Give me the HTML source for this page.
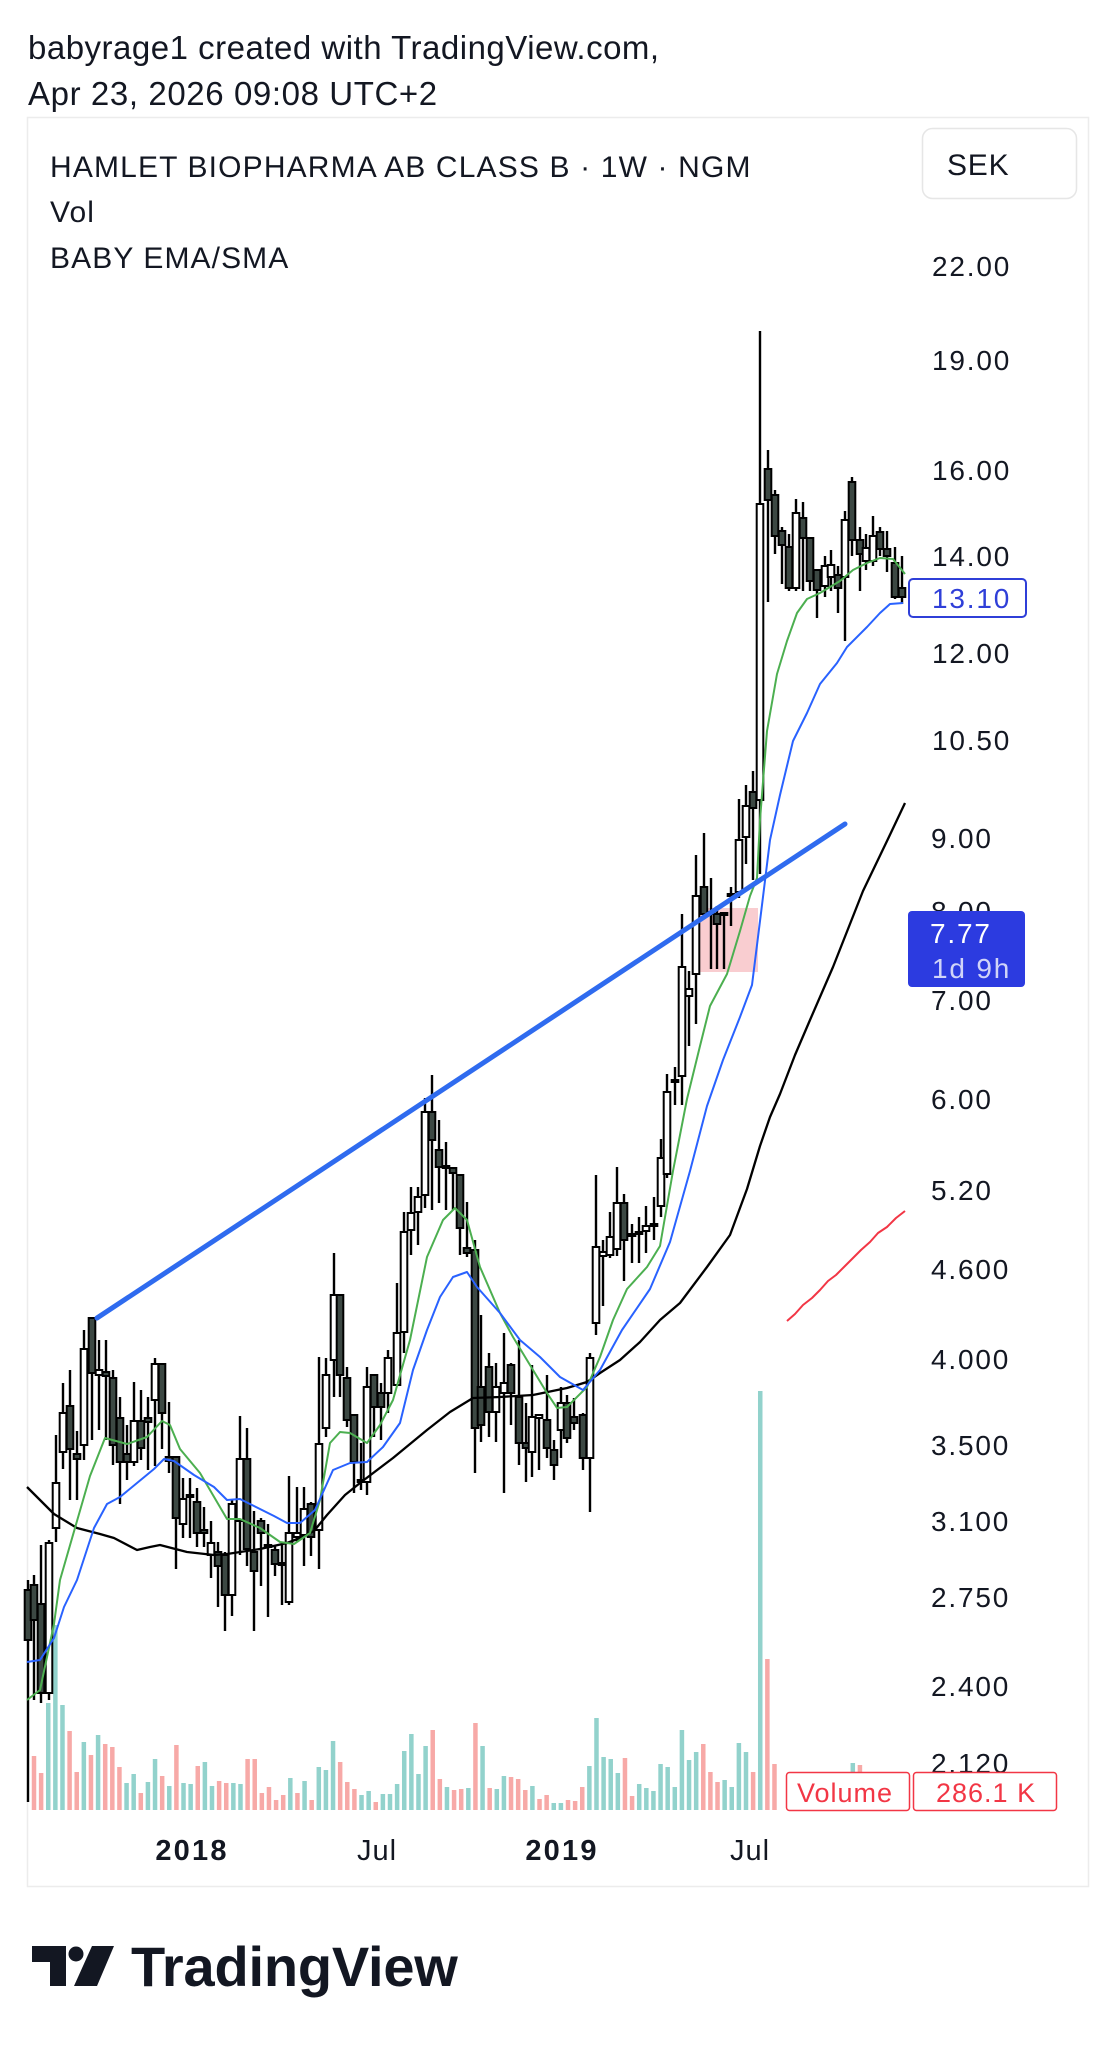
<!DOCTYPE html>
<html>
<head>
<meta charset="utf-8">
<style>
html,body{margin:0;padding:0;background:#fff;}
body{width:1110px;height:2048px;overflow:hidden;}
svg{display:block;font-family:"Liberation Sans",sans-serif;}
</style>
</head>
<body>
<svg id="s" width="1110" height="2048" viewBox="0 0 1110 2048" xmlns="http://www.w3.org/2000/svg">
<rect width="1110" height="2048" fill="#fff"/>
<!-- header -->
<text x="28" y="59" font-size="33" letter-spacing="0.5" fill="#131722">babyrage1 created with TradingView.com,</text>
<text x="28" y="105" font-size="33" letter-spacing="0.6" fill="#131722">Apr 23, 2026 09:08 UTC+2</text>
<!-- frame -->
<rect x="27.5" y="117.5" width="1061" height="1769" fill="none" stroke="#ececec" stroke-width="1.5"/>
<text x="50" y="177" font-size="30" letter-spacing="1.15" fill="#131722">HAMLET BIOPHARMA AB CLASS B · 1W · NGM</text>
<text x="50" y="222" font-size="30" letter-spacing="1.1" fill="#131722">Vol</text>
<text x="50" y="268" font-size="30" letter-spacing="1.1" fill="#131722">BABY EMA/SMA</text>
<rect x="922.5" y="128.5" width="154" height="70" rx="10" fill="#fff" stroke="#e6e6e6" stroke-width="1.5"/>
<text x="947" y="175" font-size="30" letter-spacing="0.8" fill="#131722">SEK</text>

<!-- price labels -->
<g font-size="28" letter-spacing="1.8" fill="#131722">
<text x="932" y="276">22.00</text>
<text x="932" y="370">19.00</text>
<text x="932" y="480">16.00</text>
<text x="932" y="566">14.00</text>
<text x="932" y="663">12.00</text>
<text x="932" y="750">10.50</text>
<text x="931" y="848">9.00</text>
<text x="931" y="921">8.00</text>
<text x="931" y="1010">7.00</text>
<text x="931" y="1109">6.00</text>
<text x="931" y="1200">5.20</text>
<text x="931" y="1279">4.600</text>
<text x="931" y="1369">4.000</text>
<text x="931" y="1455">3.500</text>
<text x="931" y="1531">3.100</text>
<text x="931" y="1607">2.750</text>
<text x="931" y="1696">2.400</text>
<text x="931" y="1773">2.120</text>
</g>

<!-- volume -->
<g id="vol"></g>

<!-- red zone -->
<rect x="700" y="908" width="58" height="64" fill="#f9cdd0"/>

<!-- candles -->
<g id="cand"></g>

<!-- MAs -->
<polyline fill="none" stroke="#000" stroke-width="2.3" stroke-linejoin="round" points="27,1487 40,1500 54,1514 77,1528 100,1534 114,1538 137,1550 150,1547 160,1545 187,1552 214,1555 227,1554 260,1549 287,1543 300,1538 314,1531 327,1515 345,1495 360,1483 393,1458 427,1430 450,1412 473,1398 500,1397 533,1395 567,1388 587,1382 600,1373 620,1360 640,1342 660,1320 680,1303 707,1267 730,1235 747,1189 760,1146 770,1117 780,1094 795,1055 810,1020 833,967 863,891 887,841 905,803"/>
<polyline fill="none" stroke="#4caf50" stroke-width="2" stroke-linejoin="round" points="27,1700 40,1690 54,1624 60,1580 77,1521 90,1476 105,1438 127,1444 147,1437 162,1421 170,1425 180,1449 200,1473 227,1519 240,1519 260,1528 280,1542 294,1544 310,1533 320,1500 330,1443 340,1432 350,1433 367,1443 380,1425 393,1400 410,1340 427,1257 443,1220 455,1208 467,1220 480,1267 500,1313 513,1337 533,1370 547,1393 557,1408 567,1407 587,1387 600,1357 613,1320 627,1289 647,1267 660,1246 673,1171 687,1099 700,1046 710,1006 727,974 740,931 750,896 757,878 760,820 767,731 777,674 787,641 797,613 807,599 820,593 840,581 853,570 867,563 880,558 893,559 905,574"/>
<polyline fill="none" stroke="#2962ff" stroke-width="2" stroke-linejoin="round" points="27,1662 40,1660 54,1638 64,1607 77,1580 94,1528 107,1504 120,1497 137,1483 154,1469 164,1459 174,1461 194,1475 214,1487 227,1500 240,1499 254,1506 274,1516 287,1523 300,1523 315,1510 333,1470 350,1463 367,1462 383,1447 400,1423 413,1370 427,1330 440,1297 453,1277 467,1272 477,1287 500,1313 520,1340 540,1357 560,1377 583,1390 600,1370 622,1330 650,1289 670,1242 690,1171 707,1106 723,1060 740,1017 752,985 757,945 762,905 770,840 780,795 793,741 807,713 820,684 837,663 847,647 867,627 880,613 890,604 903,603"/>
<polyline fill="none" stroke="#f23645" stroke-width="2" stroke-linejoin="round" points="787,1321 795,1314 803,1305 812,1298 820,1290 828,1281 836,1275 845,1266 853,1258 861,1250 870,1242 878,1233 887,1227 896,1218 905,1211"/>

<!-- trendline -->
<line x1="97" y1="1318" x2="845" y2="824" stroke="#2f6bef" stroke-width="5" stroke-linecap="round"/>

<!-- last price label -->
<rect x="909" y="579" width="117" height="38" rx="4" fill="#fff" stroke="#2f3fd8" stroke-width="2"/>
<text x="932" y="608" font-size="28" letter-spacing="1.8" fill="#2f3fd8">13.10</text>
<rect x="908" y="911" width="117" height="76" rx="4" fill="#2c3be0"/>
<text x="930" y="943" font-size="28" letter-spacing="1.8" fill="#fff">7.77</text>
<text x="932" y="978" font-size="28" letter-spacing="1.8" fill="#fff" fill-opacity="0.78">1d 9h</text>

<!-- volume label -->
<rect x="786.5" y="1772.5" width="123" height="38" rx="3" fill="#fff" stroke="#f23645" stroke-width="1.5"/>
<text x="797" y="1802" font-size="27" letter-spacing="1" fill="#f23645">Volume</text>
<rect x="913.5" y="1772.5" width="143" height="38" rx="3" fill="#fff" stroke="#f23645" stroke-width="1.5"/>
<text x="936" y="1802" font-size="27" letter-spacing="1" fill="#f23645">286.1 K</text>

<!-- x axis -->
<g font-size="29" fill="#131722" text-anchor="middle">
<text x="192" y="1860" font-weight="bold" letter-spacing="2.2">2018</text>
<text x="377" y="1860" letter-spacing="1">Jul</text>
<text x="562" y="1860" font-weight="bold" letter-spacing="2.2">2019</text>
<text x="750" y="1860" letter-spacing="1">Jul</text>
</g>

<!-- TradingView logo -->
<path d="M32,1946 H66 V1986 H50 V1962 H32 Z" fill="#131722"/>
<circle cx="76" cy="1954" r="7.5" fill="#131722"/>
<path d="M92,1946 H114 L97,1986 H74 Z" fill="#131722"/>
<text x="131" y="1986" font-size="56" font-weight="bold" letter-spacing="-0.2" fill="#131722">TradingView</text>
</svg>
<script>
(function(){
var C=[
[28,1580,1802,1590,1640,0],[34,1575,1700,1585,1620,0],[41,1545,1703,1604,1693,0],[49,1540,1700,1543,1693,1],
[56,1435,1542,1483,1528,1],[63,1383,1469,1413,1452,1],[70,1370,1500,1406,1449,0],[77,1431,1500,1454,1459,0],
[84,1330,1460,1349,1445,1],[92,1318,1440,1318,1373,0],[99,1340,1430,1370,1375,1],[106,1340,1440,1372,1376,0],
[113,1370,1465,1378,1445,0],[120,1397,1504,1418,1462,0],[127,1425,1480,1454,1462,0],[134,1382,1466,1421,1462,1],
[141,1390,1460,1421,1448,0],[148,1397,1470,1418,1422,0],[155,1358,1466,1364,1400,1],[162,1364,1449,1364,1413,0],
[169,1402,1473,1457,1461,0],[176,1457,1569,1457,1518,0],[183,1478,1538,1499,1524,1],[190,1478,1538,1495,1497,0],
[197,1488,1547,1502,1533,0],[204,1507,1547,1530,1533,0],[211,1521,1578,1543,1555,1],[218,1542,1607,1552,1566,0],
[225,1552,1631,1555,1595,0],[232,1500,1616,1504,1595,1],[240,1416,1555,1459,1521,1],[247,1428,1566,1459,1549,0],
[254,1511,1631,1552,1571,0],[261,1518,1586,1521,1533,0],[268,1524,1617,1545,1547,0],[275,1545,1576,1550,1564,0],
[282,1545,1605,1563,1565,0],[289,1476,1605,1533,1602,1],[297,1487,1542,1533,1537,1],[304,1487,1566,1509,1535,1],
[311,1502,1556,1504,1537,0],[319,1357,1569,1444,1530,1],[326,1358,1437,1375,1428,1],[334,1253,1397,1295,1360,1],
[340,1295,1397,1295,1375,0],[347,1367,1427,1378,1420,0],[354,1415,1493,1415,1462,0],[361,1443,1490,1480,1482,0],
[367,1367,1495,1387,1482,1],[374,1375,1437,1375,1407,0],[381,1383,1440,1393,1407,0],[388,1350,1413,1358,1393,1],
[397,1283,1385,1333,1385,1],[404,1212,1353,1232,1332,1],[411,1187,1255,1213,1230,1],[418,1187,1245,1197,1212,1],
[425,1098,1208,1112,1195,1],[432,1075,1210,1112,1140,0],[439,1120,1203,1150,1167,0],[446,1142,1210,1166,1168,0],
[453,1168,1210,1168,1173,0],[460,1175,1255,1175,1228,0],[467,1202,1257,1248,1253,0],[475,1240,1473,1250,1428,0],
[481,1315,1442,1387,1425,0],[489,1353,1437,1367,1412,0],[496,1363,1442,1387,1412,1],[504,1333,1493,1383,1393,1],
[511,1363,1425,1365,1393,0],[519,1340,1465,1397,1443,0],[526,1403,1482,1443,1448,0],[532,1365,1477,1417,1452,1],
[539,1415,1470,1415,1418,1],[547,1375,1458,1420,1448,0],[554,1440,1480,1450,1465,0],[561,1387,1458,1403,1430,1],
[567,1395,1443,1403,1438,0],[574,1398,1430,1417,1423,0],[583,1413,1470,1415,1458,0],[590,1353,1512,1358,1458,1],
[596,1175,1335,1247,1323,1],[603,1240,1306,1252,1256,1],[610,1212,1258,1237,1255,1],[617,1167,1256,1203,1249,1],
[624,1194,1281,1203,1240,0],[632,1224,1263,1234,1236,0],[639,1217,1263,1232,1234,0],[646,1206,1253,1226,1231,1],
[654,1197,1240,1224,1226,0],[661,1139,1217,1158,1206,1],[667,1074,1178,1092,1174,1],[675,1067,1105,1080,1082,0],
[682,914,1105,967,1076,1],[689,971,1046,989,996,1],[696,855,1024,896,974,1],[704,833,914,887,914,0],
[711,878,969,912,914,0],[717,906,969,914,924,0],[724,912,969,913,915,0],[731,887,926,894,896,1],
[739,799,898,840,892,1],[746,785,864,806,837,1],[753,771,880,792,808,0],[760,331,874,504,800,1],
[768,450,602,469,500,0],[775,490,554,495,536,0],[782,527,584,531,545,0],[789,534,591,547,588,0],
[796,499,591,513,588,1],[803,502,591,518,538,0],[810,538,591,538,581,0],[817,570,618,570,590,0],
[825,556,597,566,586,1],[831,550,591,565,577,1],[838,566,613,575,588,0],[845,511,641,520,577,1],
[852,477,556,482,540,0],[860,527,591,540,554,0],[866,534,570,548,561,1],[873,516,566,536,561,1],
[880,527,556,532,549,0],[887,531,572,549,556,0],[895,547,599,563,597,0],[902,556,604,588,597,0]
];
var s='';
for(var i=0;i<C.length;i++){
 var c=C[i],x=c[0],h=c[1],l=c[2],t=c[3],b=c[4],u=c[5];
 s+='<line x1="'+x+'" y1="'+h+'" x2="'+x+'" y2="'+l+'" stroke="#000" stroke-width="2.4"/>';
 var hh=Math.max(b-t,2);
 s+='<rect x="'+(x-3.3)+'" y="'+t+'" width="6.6" height="'+hh+'" fill="'+(u?'#fff':'#3c4843')+'" stroke="#000" stroke-width="2"/>';
}
document.getElementById('cand').innerHTML=s;

var V=[[1756,0],[1773,0],[1703,1],[1625,1],[1705,1],[1731,0],[1772,0],[1742,1],[1755,0],[1735,1],
[1744,0],[1747,0],[1767,0],[1783,1],[1774,1],[1793,0],[1782,1],[1759,1],[1776,0],[1786,1],
[1745,0],[1783,1],[1784,1],[1766,0],[1762,1],[1786,1],[1781,0],[1783,0],[1783,1],[1784,1],
[1759,0],[1759,0],[1793,0],[1787,0],[1800,0],[1795,0],[1778,1],[1793,0],[1781,1],[1800,0],
[1767,1],[1770,1],[1741,1],[1762,0],[1782,0],[1789,0],[1795,1],[1791,1],[1802,0],[1794,1],
[1794,1],[1784,1],[1751,1],[1734,1],[1774,1],[1746,1],[1730,0],[1779,0],[1787,1],[1790,0],
[1789,0],[1788,1],[1723,0],[1746,1],[1788,0],[1789,1],[1776,1],[1777,0],[1779,0],[1790,0],
[1786,1],[1799,0],[1795,0],[1803,1],[1803,1],[1800,0],[1801,0],[1787,0],[1766,1],[1718,1],
[1757,1],[1759,1],[1773,1],[1758,0],[1796,0],[1784,1],[1788,1],[1791,1],[1764,1],[1767,1],
[1787,1],[1730,1],[1760,1],[1752,1],[1744,0],[1772,0],[1782,0],[1780,1],[1787,1],[1743,1],
[1752,1],[1772,0],[1391,1],[1659,0],[1764,0]];
var extra={115:[1763,1],116:[1765,0]};
var v='';
function bar(k,y,c){var x=34+k*7.12;v+='<rect x="'+(x-2.25).toFixed(2)+'" y="'+y+'" width="4.5" height="'+(1810-y)+'" fill="'+(c?'#92d2cc':'#f7a9a7')+'"/>';}
for(var k=0;k<V.length;k++)bar(k,V[k][0],V[k][1]);
for(var kk in extra)bar(+kk,extra[kk][0],extra[kk][1]);
document.getElementById('vol').innerHTML=v;
})();
</script>
</body>
</html>
